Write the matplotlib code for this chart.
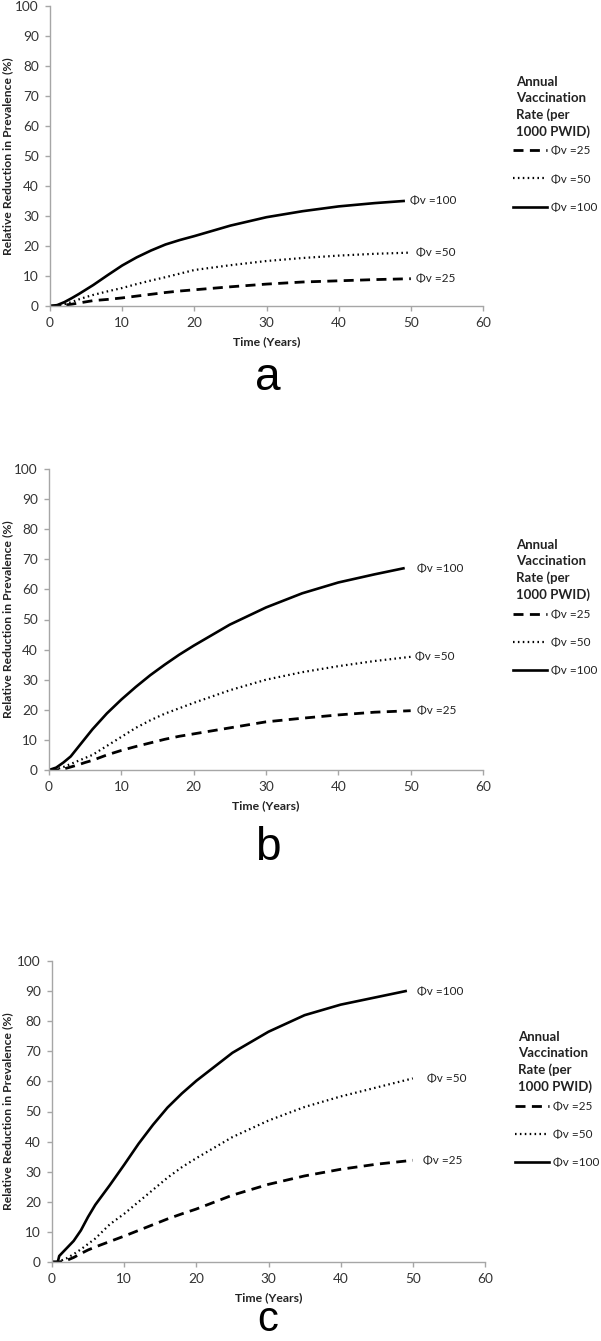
import matplotlib
matplotlib.use("Agg")
import matplotlib.pyplot as plt

# ---------------- data ----------------
t_solid = [0, 1, 2, 3, 4, 5, 6, 8, 10, 12, 14, 16, 18, 20, 25, 30, 35, 40, 45, 49]
t_other = [0, 1, 2, 3, 4, 5, 6, 8, 10, 12, 14, 16, 18, 20, 25, 30, 35, 40, 45, 50]
t_solid_c = [0, 0.8, 1, 2, 3, 4, 5, 6, 8, 10, 12, 14, 16, 18, 20, 25, 30, 35, 40, 45, 49]

a_100 = [0, 0.3, 1.3, 2.6, 4.0, 5.5, 7.0, 10.3, 13.5, 16.2, 18.5, 20.5, 22.0, 23.3, 26.8, 29.6, 31.6, 33.2, 34.3, 35.0]
a_50 = [0, 0.1, 0.6, 1.3, 2.2, 3.0, 3.7, 4.9, 6.0, 7.3, 8.5, 9.6, 10.8, 12.0, 13.6, 15.0, 16.0, 16.8, 17.4, 17.8]
a_25 = [0, 0, 0.3, 0.6, 1.0, 1.4, 1.8, 2.2, 2.7, 3.3, 3.9, 4.5, 5.0, 5.4, 6.4, 7.3, 8.0, 8.4, 8.8, 9.1]

b_100 = [0, 0.8, 2.5, 4.5, 7.5, 10.5, 13.5, 18.8, 23.4, 27.6, 31.5, 35.0, 38.3, 41.3, 48.3, 54.0, 58.7, 62.3, 65.0, 67.0]
b_50 = [0, 0.2, 1.0, 2.0, 3.0, 4.0, 5.0, 8.0, 11.0, 14.0, 16.5, 18.7, 20.5, 22.3, 26.5, 30.0, 32.5, 34.5, 36.2, 37.6]
b_25 = [0, 0, 0.3, 1.0, 1.7, 2.5, 3.2, 5.0, 6.5, 7.8, 9.0, 10.2, 11.2, 12.0, 14.0, 16.0, 17.2, 18.3, 19.2, 19.7]

c_100 = [0, 0, 2.0, 4.5, 7.0, 10.5, 15.0, 19.0, 25.5, 32.3, 39.3, 45.6, 51.3, 56.0, 60.2, 69.5, 76.5, 82.0, 85.5, 88.0, 90.0]
c_50 = [0, 0.2, 1.2, 2.6, 4.2, 6.0, 7.8, 12.5, 16.0, 20.0, 24.0, 28.0, 31.5, 34.5, 41.5, 47.0, 51.5, 55.0, 58.0, 61.0]
c_25 = [0, 0, 0.5, 1.5, 2.8, 4.0, 5.0, 6.8, 8.6, 10.5, 12.4, 14.3, 16.0, 17.6, 22.2, 25.8, 28.6, 30.8, 32.5, 33.8]

series_labels = ["\u03a6v =25", "\u03a6v =50", "\u03a6v =100"]
panel_letters = ["a", "b", "c"]
x_ticks = [0, 10, 20, 30, 40, 50, 60]
y_ticks = [0, 10, 20, 30, 40, 50, 60, 70, 80, 90, 100]
legend_title = "Annual\nVaccination\nRate (per\n1000 PWID)"

panels = [
    dict(t100=t_solid, y100=a_100, t50=t_other, y50=a_50, t25=t_other, y25=a_25,
         dx=(0.7, 0.7, 0.9)),
    dict(t100=t_solid, y100=b_100, t50=t_other, y50=b_50, t25=t_other, y25=b_25,
         dx=(0.9, 0.6, 1.9)),
    dict(t100=t_solid_c, y100=c_100, t50=t_other, y50=c_50, t25=t_other, y25=c_25,
         dx=(1.4, 2.0, 1.6)),
]

# ---------------- layout ----------------
W, H = 601, 1341
fig = plt.figure(figsize=(W / 100, H / 100), dpi=100)

# pixel boxes: (left, right, top, bottom)
boxes = [(50, 483, 6, 306), (49, 483, 469, 770), (52, 485, 961, 1262)]
# (y pixel, vertical alignment, size) for the panel letters
letter_pos = [(390, "baseline", 33), (860, "baseline", 33), (1340, "bottom", 30)]

FONT = "Lato"
styles = {
    "25": dict(color="black", lw=2.0, linestyle=(0, (3.6, 2.3))),
    "50": dict(color="black", lw=1.6, linestyle=(0, (0.7, 1.5))),
    "100": dict(color="black", lw=1.9, linestyle="-"),
}
spine_col = "#a6a6a6"
txt_col = "#222222"

for i, (p, box) in enumerate(zip(panels, boxes)):
    l, r, tp, bt = box
    ax = fig.add_axes([l / W, 1 - bt / H, (r - l) / W, (bt - tp) / H])
    ax.set_xlim(0, 60)
    ax.set_ylim(0, 100)
    ax.set_xticks(x_ticks)
    ax.set_yticks(y_ticks)
    for s in ["top", "right"]:
        ax.spines[s].set_visible(False)
    for s in ["left", "bottom"]:
        ax.spines[s].set_color(spine_col)
        ax.spines[s].set_linewidth(1.0)
    ax.tick_params(axis="both", direction="out", length=3.5, width=1.0,
                   color=spine_col, labelcolor="#333333", labelsize=9.8, pad=4.5)
    for lab in ax.get_xticklabels() + ax.get_yticklabels():
        lab.set_fontfamily(FONT)

    h25, = ax.plot(p["t25"], p["y25"], **styles["25"])
    h50, = ax.plot(p["t50"], p["y50"], **styles["50"])
    h100, = ax.plot(p["t100"], p["y100"], **styles["100"])

    # end labels
    ends = [(p["t25"][-1], p["y25"][-1]), (p["t50"][-1], p["y50"][-1]), (p["t100"][-1], p["y100"][-1])]
    for (xe, ye), lab, dx in zip(ends, series_labels, p["dx"]):
        ax.text(xe + dx, ye, lab, fontsize=8.5, family=FONT, color=txt_col,
                va="center", ha="left")

    ax.set_ylabel("Relative Reduction in Prevalence (%)", fontsize=8.7,
                  family=FONT, fontweight="bold", color=txt_col)
    ax.yaxis.set_label_coords(-(l - 8) / (r - l), 0.5)
    ax.yaxis.label.set_va("center")
    ax.set_xlabel("Time (Years)", fontsize=8.8, family=FONT,
                  fontweight="bold", color=txt_col)
    ax.xaxis.set_label_coords(0.5, -36 / (bt - tp))
    ax.xaxis.label.set_va("center")

    # legend title (separate text) and legend entries
    ax.text(1.077, 0.767, legend_title, transform=ax.transAxes, ha="left",
            va="top", family=FONT, fontweight="bold", fontsize=9.5,
            color=txt_col, linespacing=1.4)
    leg = ax.legend([h25, h50, h100], series_labels,
                    loc="center left", bbox_to_anchor=(1.069, 0.423),
                    frameon=False, handlelength=2.9,
                    handletextpad=0.3, labelspacing=1.45, borderaxespad=0,
                    borderpad=0, prop=dict(family=FONT, size=8.5))
    for txt in leg.get_texts():
        txt.set_color(txt_col)

    ly, lva, lsz = letter_pos[i]
    fig.text(268 / W, 1 - ly / H, panel_letters[i], fontsize=lsz,
             family="Liberation Sans", ha="center", va=lva)

fig.savefig("out.png", dpi=100)
